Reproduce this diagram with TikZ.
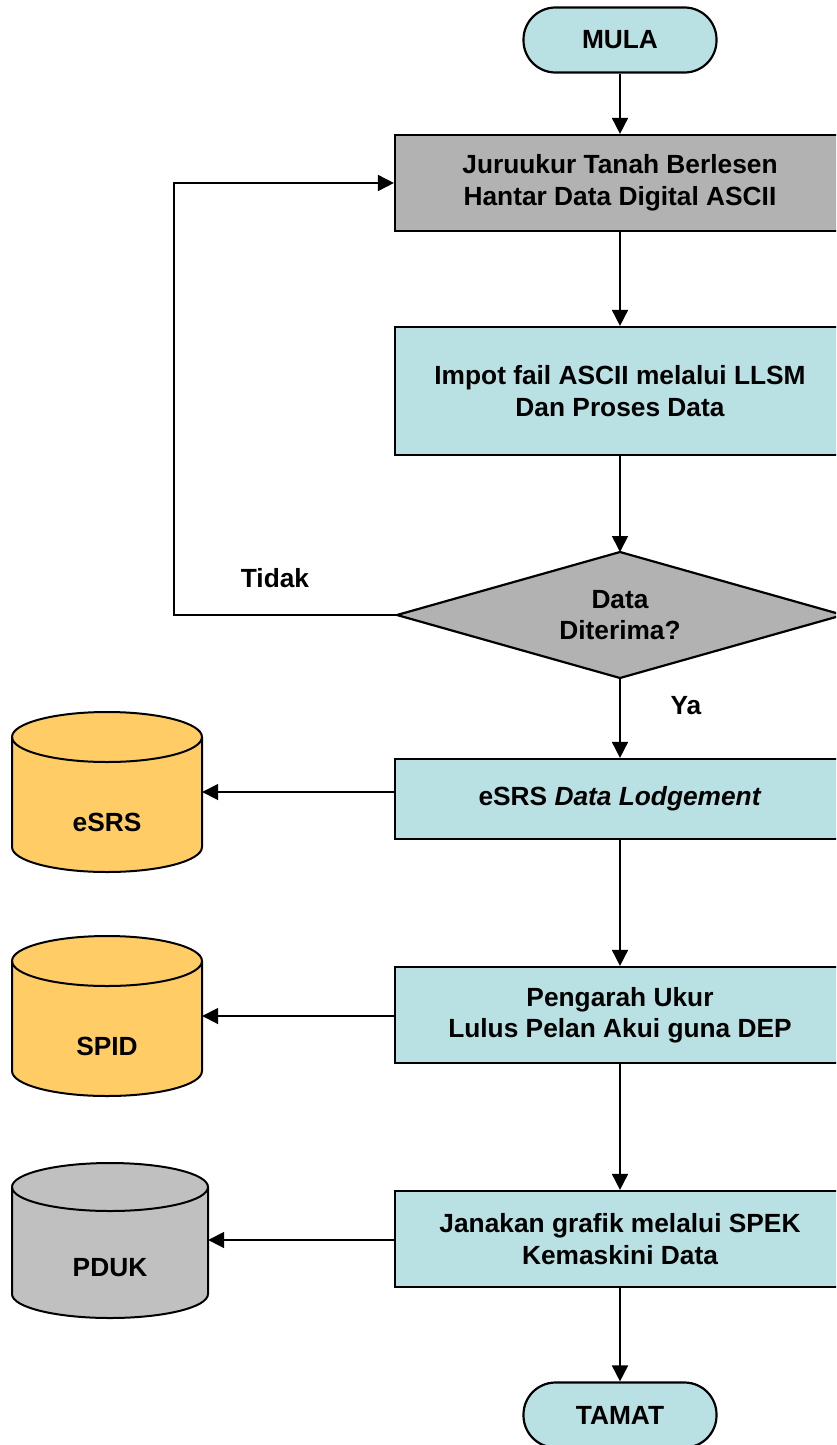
\documentclass[tikz,border=0pt]{standalone}
\usepackage{fontspec}
\setmainfont{Liberation Sans}
\usetikzlibrary{shapes.geometric,arrows.meta}
\definecolor{boxgray}{HTML}{B2B2B2}
\definecolor{boxblue}{HTML}{B9E0E3}
\definecolor{cylyellow}{HTML}{FFCC66}
\definecolor{cylgray}{HTML}{C0C0C0}
\begin{document}
\begin{tikzpicture}[x=1pt,y=-1pt,
  every node/.style={font=\fontsize{26.3}{31.5}\selectfont\bfseries, align=center},
  proc/.style={draw, line width=2.2pt, minimum width=450pt, inner sep=0pt},
  term/.style={draw, line width=2.2pt, fill=boxblue, rounded corners=32pt, minimum width=193pt, minimum height=65pt, inner sep=0pt},
  conn/.style={line width=1.8pt, -{Triangle[length=16pt,width=16pt]}},
  cylshape/.style={draw, line width=2pt},
  lbl/.style={font=\fontsize{26.3}{30}\selectfont\bfseries}
]
\useasboundingbox (0,0) rectangle (836,1445);
\clip (0,0) rectangle (836,1445);

% terminals
\node[term] (mula) at (620,40) {MULA};
\node[term] (tamat) at (620,1415) {TAMAT};

% process boxes
\node[proc, fill=boxgray, minimum height=96pt] (b1) at (620,183) {Juruukur Tanah Berlesen\\Hantar Data Digital ASCII};
\node[proc, fill=boxblue, minimum height=128pt] (b2) at (620,391) {Impot fail ASCII melalui LLSM\\Dan Proses Data};

% decision
\coordinate (dtop) at (620,552);
\coordinate (dbot) at (620,678);
\coordinate (dleft) at (397,615);
\coordinate (dright) at (843,615);
\draw[line width=2.2pt, fill=boxgray] (dtop) -- (dright) -- (dbot) -- (dleft) -- cycle;
\node (d) at (620,615) {Data\\Diterima?};

\node[proc, fill=boxblue, minimum height=80pt] (b3) at (620,799) {eSRS \textit{Data Lodgement}};
\node[proc, fill=boxblue, minimum height=96pt] (b4) at (620,1015) {Pengarah Ukur\\Lulus Pelan Akui guna DEP};
\node[proc, fill=boxblue, minimum height=96pt] (b5) at (620,1239) {Janakan grafik melalui SPEK\\Kemaskini Data};

% cylinders
\fill[cylyellow] (12,737) -- (12,847) arc (180:360:95pt and 25pt) -- (202,737) arc (0:180:95pt and 25pt) -- cycle;
\draw[cylshape] (12,737) -- (12,847) arc (180:360:95pt and 25pt) -- (202,737) arc (0:180:95pt and 25pt) -- cycle;
\draw[cylshape] (12,737) arc (180:360:95pt and 25pt);
\node[minimum width=190pt, minimum height=160pt, inner sep=0pt] (esrs) at (107,792) {};
\node at (107,822) {eSRS};

\fill[cylyellow] (12,961) -- (12,1071) arc (180:360:95pt and 25pt) -- (202,961) arc (0:180:95pt and 25pt) -- cycle;
\draw[cylshape] (12,961) -- (12,1071) arc (180:360:95pt and 25pt) -- (202,961) arc (0:180:95pt and 25pt) -- cycle;
\draw[cylshape] (12,961) arc (180:360:95pt and 25pt);
\node[minimum width=190pt, minimum height=160pt, inner sep=0pt] (spid) at (107,1016) {};
\node at (107,1046) {SPID};

\fill[cylgray] (12,1187) -- (12,1294) arc (180:360:98pt and 24pt) -- (208,1187) arc (0:180:98pt and 24pt) -- cycle;
\draw[cylshape] (12,1187) -- (12,1294) arc (180:360:98pt and 24pt) -- (208,1187) arc (0:180:98pt and 24pt) -- cycle;
\draw[cylshape] (12,1187) arc (180:360:98pt and 24pt);
\node[minimum width=196pt, minimum height=155pt, inner sep=0pt] (pduk) at (110,1240) {};
\node at (110,1268) {PDUK};

% connectors
\draw[conn] (mula) -- (b1);
\draw[conn] (b1) -- (b2);
\draw[conn] (b2) -- (dtop);
\draw[conn] (dbot) -- (b3);
\draw[conn] (b3) -- (b4);
\draw[conn] (b4) -- (b5);
\draw[conn] (b5) -- (tamat);
\coordinate (fb) at (174,615);
\draw[conn] (dleft) -- (fb) |- (b1.west);
\draw[conn] (esrs.east -| b3.west) -- (esrs.east);
\draw[conn] (spid.east -| b4.west) -- (spid.east);
\draw[conn] (pduk.east -| b5.west) -- (pduk.east);

% labels
\node[lbl] (tidak) at (275,578) {Tidak};
\node[lbl] (ya) at (686,706) {Ya};
\end{tikzpicture}
\end{document}
